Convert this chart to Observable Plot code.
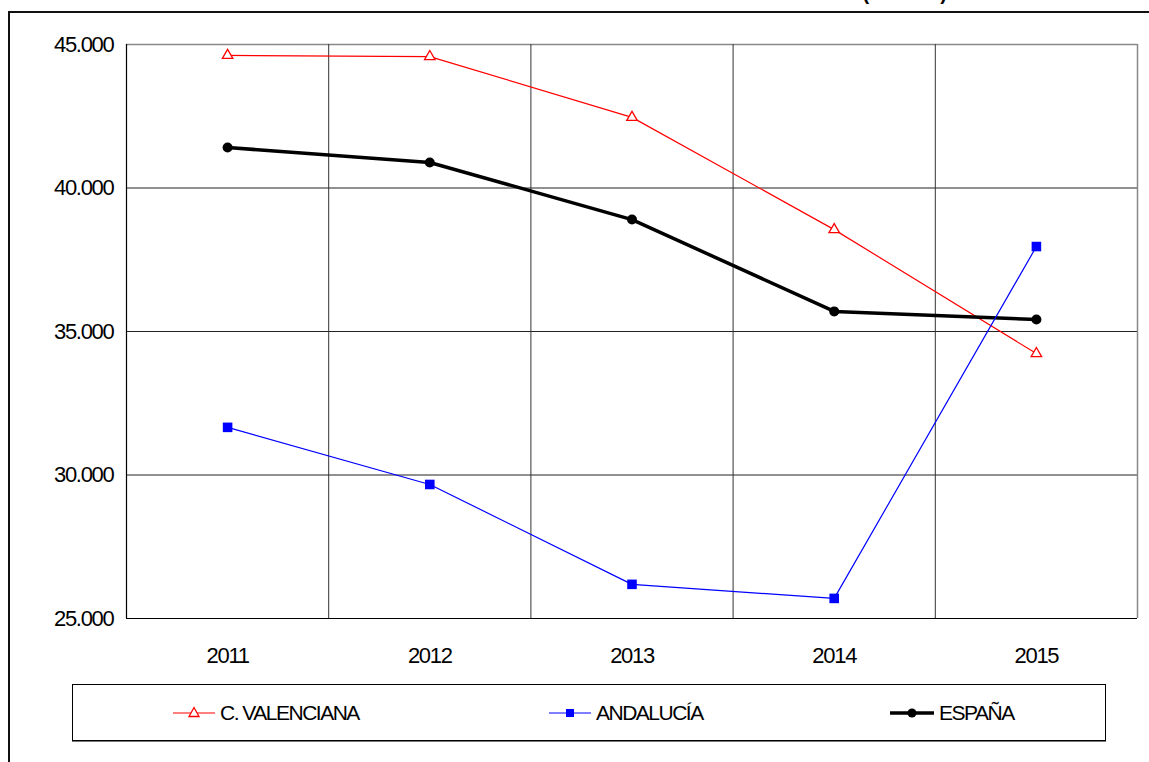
<!DOCTYPE html>
<html>
<head>
<meta charset="utf-8">
<script src="https://cdn.jsdelivr.net/npm/d3@7"></script>
<script src="https://cdn.jsdelivr.net/npm/@observablehq/plot@0.6"></script>
<style>
  html, body { margin:0; padding:0; background:#fff; overflow:hidden; }
  #page { position:relative; width:1149px; height:762px; overflow:hidden; font-family:"Liberation Sans", Arial, sans-serif; }
  #frame { position:absolute; left:8px; top:11px; width:1300px; height:900px; border-left:2px solid #111; border-top:2px solid #111; }
  #title { position:absolute; left:0; top:0; }
  #chart { position:absolute; left:0; top:0; }
  #chart svg text { letter-spacing:-1.3px; }
  #legend { position:absolute; left:72px; top:684px; width:1032px; height:55px; border:1px solid #000; box-shadow:0 1px 0 #777; background:#fff; }
  .item { position:absolute; top:0; height:55px; display:flex; align-items:center; font-size:21px; letter-spacing:-1.5px; color:#000; }
  .item svg { margin-right:5px; }
</style>
</head>
<body>
<div id="page">
  <div id="frame"></div>
  <svg id="title" width="1149" height="20"><text x="947" y="-0.5" text-anchor="end" font-family="Liberation Sans, Arial, sans-serif" font-weight="bold" font-size="20">(EUROS)</text></svg>
  <div id="chart"></div>
  <div id="legend"></div>
</div>
<script>
const years = [2011, 2012, 2013, 2014, 2015];
const valenciana = [44620, 44580, 42460, 38550, 34230];
const andalucia = [31660, 29670, 26190, 25700, 37960];
const espana = [41410, 40890, 38900, 35700, 35420];
const yTicks = [25000, 30000, 35000, 40000, 45000];
const seriesNames = ["C. VALENCIANA", "ANDALUCÍA", "ESPAÑA"];

const fmt = d3.formatLocale({decimal: ",", thousands: ".", grouping: [3], currency: ["", " €"]}).format(",d");
const rows = (vals, name) => years.map((y, i) => ({year: y, value: vals[i], serie: name}));
const dV = rows(valenciana, seriesNames[0]);
const dA = rows(andalucia, seriesNames[1]);
const dE = rows(espana, seriesNames[2]);
const lo = years[0] - 0.5, hi = years[years.length - 1] + 0.5;
const inner = years.slice(0, -1).map(y => y + 0.5);

const chart = Plot.plot({
  width: 1149, height: 680,
  marginLeft: 126, marginRight: 12, marginTop: 44, marginBottom: 62,
  x: {domain: [lo, hi], ticks: years, tickFormat: d => String(d), tickSize: 0, tickPadding: 29, label: null},
  y: {domain: [yTicks[0], yTicks[yTicks.length - 1]], ticks: yTicks, tickFormat: fmt, tickSize: 0, tickPadding: 13, label: null},
  style: {fontFamily: "'Liberation Sans', Arial, sans-serif", fontSize: "22px", color: "#000", background: "transparent", overflow: "visible"},
  marks: [
    Plot.ruleY(yTicks.slice(1, -1), {stroke: "#222", strokeWidth: 1}),
    Plot.ruleY([yTicks[yTicks.length - 1]], {stroke: "#888", strokeWidth: 1.5}),
    Plot.ruleX(inner, {stroke: "#333", strokeWidth: 1}),
    Plot.ruleX([hi], {stroke: "#888", strokeWidth: 1.5}),
    Plot.ruleX([lo], {stroke: "#000", strokeWidth: 1.2}),
    Plot.ruleY([yTicks[0]], {stroke: "#000", strokeWidth: 1.2}),
    Plot.lineY(dV, {x: "year", y: "value", stroke: "#ff0000", strokeWidth: 1.2}),
    Plot.dot(dV, {x: "year", y: "value", symbol: "triangle", r: 3.9, fill: "#fff", stroke: "#ff0000", strokeWidth: 1.3}),
    Plot.lineY(dE, {x: "year", y: "value", stroke: "#000", strokeWidth: 3.5}),
    Plot.dot(dE, {x: "year", y: "value", r: 5, fill: "#000", stroke: "none"}),
    Plot.lineY(dA, {x: "year", y: "value", stroke: "#0000ff", strokeWidth: 1.2}),
    Plot.dot(dA, {x: "year", y: "value", symbol: "square", r: 5.4, fill: "#0000ff", stroke: "none"})
  ]
});
document.getElementById("chart").appendChild(chart);

// Legend
const legend = document.getElementById("legend");
const lefts = [100, 476, 817];
const symbols = [
  `<svg width="42" height="20"><line x1="0" y1="10" x2="42" y2="10" stroke="#ff0000" stroke-width="1.2"/><path d="M21,4.5 L26,13.5 L16,13.5 Z" fill="#fff" stroke="#ff0000" stroke-width="1.3"/></svg>`,
  `<svg width="42" height="20"><line x1="0" y1="10" x2="42" y2="10" stroke="#0000ff" stroke-width="1.2"/><rect x="17" y="6" width="8" height="8" fill="#0000ff"/></svg>`,
  `<svg width="44" height="20"><line x1="0" y1="10" x2="44" y2="10" stroke="#000" stroke-width="3.5"/><circle cx="22" cy="10" r="4.5" fill="#000"/></svg>`
];
seriesNames.forEach((n, i) => {
  const it = document.createElement("div");
  it.className = "item";
  it.style.left = lefts[i] + "px";
  it.innerHTML = symbols[i] + `<span>${n}</span>`;
  legend.appendChild(it);
});
</script>
</body>
</html>
